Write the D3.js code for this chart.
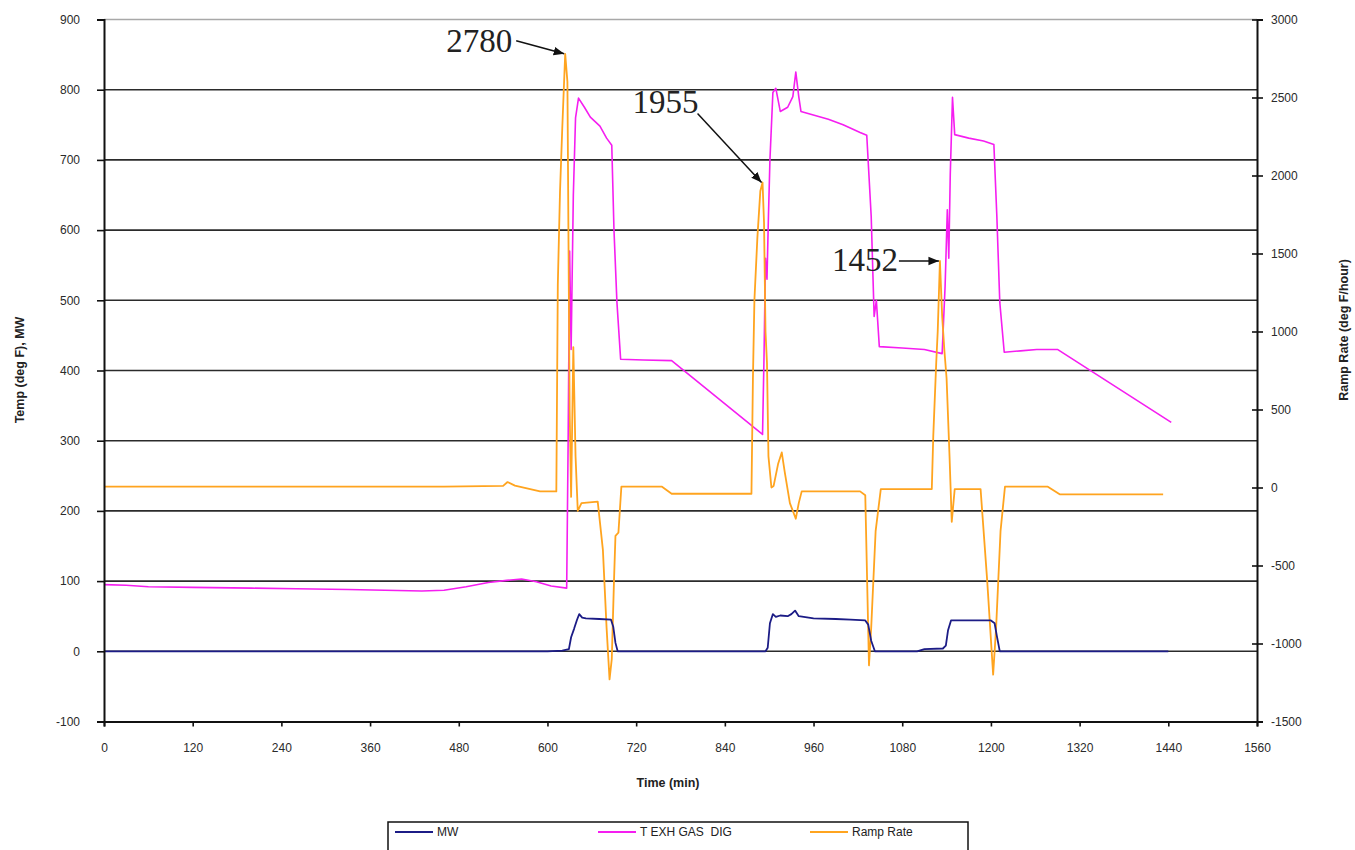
<!DOCTYPE html>
<html>
<head>
<meta charset="utf-8">
<script src="https://cdn.jsdelivr.net/npm/d3@7"></script>
<style>
  html, body { margin: 0; padding: 0; background: #fff; }
  svg { display: block; }
  .tick text { font-family: Arial, "Liberation Sans", sans-serif; font-size: 12px; fill: #2a2a2a; }
</style>
</head>
<body>
<svg id="chart" width="1355" height="850"></svg>
<script>
// ---------- data (time in minutes) ----------
const xTicks = [0, 120, 240, 360, 480, 600, 720, 840, 960, 1080, 1200, 1320, 1440, 1560];
const leftTicks = [-100, 0, 100, 200, 300, 400, 500, 600, 700, 800, 900];
const rightTicks = [-1500, -1000, -500, 0, 500, 1000, 1500, 2000, 2500, 3000];
const gridValues = [0, 100, 200, 300, 400, 500, 600, 700, 800];

const seriesNames = ["MW", "T EXH GAS  DIG", "Ramp Rate"];
const seriesColors = ["#1c1c86", "#f51ef0", "#ffa41f"];

// MW (left axis)
const mwData = [
  [0, 0], [300, 0], [600, 0], [620, 1], [629, 3], [632, 20], [636, 32], [640, 45], [643, 53],
  [647, 48], [652, 47], [670, 46], [686, 45], [689, 35], [692, 12], [695, 0],
  [895, 0], [898, 5], [901, 40], [905, 53], [909, 49], [915, 51], [925, 50], [930, 53],
  [935, 58], [940, 50], [960, 47], [990, 46], [1010, 45], [1030, 44], [1034, 38], [1038, 15],
  [1043, 0], [1100, 0], [1110, 3], [1135, 4], [1139, 8], [1142, 30], [1146, 44],
  [1170, 44], [1200, 44], [1205, 40], [1208, 22], [1212, 0], [1300, 0], [1440, 0]
];

// T EXH GAS DIG (left axis)
const exhData = [
  [0, 95], [30, 94], [60, 92], [120, 91], [200, 90], [260, 89], [330, 88], [380, 87],
  [430, 86], [460, 87], [490, 92], [520, 98], [545, 101], [565, 103], [585, 99], [605, 93],
  [626, 90], [628, 300], [630, 570], [632, 430], [635, 650], [638, 760], [642, 788],
  [650, 775], [658, 761], [671, 748], [680, 731], [687, 721], [690, 600], [694, 497],
  [699, 416], [730, 415], [768, 414], [891, 309], [893, 420], [895, 560], [897, 530],
  [899, 620], [901, 700], [905, 796], [909, 802], [915, 769], [925, 775], [932, 790],
  [936, 825], [940, 790], [943, 769], [980, 758], [1000, 750], [1023, 739], [1032, 735],
  [1038, 620], [1042, 477], [1045, 500], [1049, 434], [1080, 432], [1110, 430],
  [1134, 424], [1138, 520], [1141, 629], [1143, 560], [1145, 680], [1148, 789],
  [1151, 736], [1170, 731], [1190, 727], [1204, 722], [1208, 620], [1212, 497],
  [1218, 426], [1240, 428], [1262, 430], [1290, 430], [1444, 326]
];

// Ramp Rate (right axis)
const rampData = [
  [0, 5], [120, 5], [240, 5], [360, 5], [460, 5], [540, 10], [546, 35], [556, 12],
  [590, -25], [612, -25], [614, 1300], [617, 1900], [620, 2300], [624, 2780], [627, 2600],
  [630, 500], [632, -60], [635, 900], [638, 200], [641, -150], [646, -100], [668, -90],
  [675, -400], [680, -900], [684, -1230], [687, -1100], [690, -600], [692, -310],
  [696, -290], [700, 5], [755, 5], [768, -40], [876, -40], [878, 700], [880, 1200],
  [884, 1600], [888, 1900], [891, 1955], [893, 1700], [895, 1000], [897, 800],
  [899, 200], [903, 0], [906, 10], [912, 150], [917, 225], [921, 100], [928, -100],
  [936, -200], [940, -100], [944, -25], [1023, -25], [1030, -50], [1035, -1140],
  [1038, -900], [1044, -280], [1051, -10], [1120, -10], [1122, 330], [1126, 800],
  [1128, 1000], [1131, 1452], [1134, 1100], [1137, 880], [1140, 700], [1144, 200],
  [1147, -220], [1151, -10], [1186, -10], [1195, -600], [1203, -1200], [1207, -900],
  [1213, -280], [1219, 5], [1277, 5], [1293, -44], [1433, -44]
];

// annotations: [time, ramp value, label]
const annotations = [
  [624, 2780, "2780"],
  [891, 1955, "1955"],
  [1131, 1452, "1452"]
];

// ---------- layout ----------
const svg = d3.select("#chart");
const L = 104, R = 1257, T = 19.5, B = 721.5;

const x = d3.scaleLinear().domain([0, 1560]).range([L, R]);
const yL = d3.scaleLinear().domain([-100, 900]).range([B, T]);
const yR = d3.scaleLinear().domain([-1500, 3000]).range([B, T]);
const fmt = d => String(d);

// top border line
svg.append("line").attr("x1", L).attr("x2", R).attr("y1", T).attr("y2", T)
  .attr("stroke", "#a8a8a8").attr("stroke-width", 1.5);

// gridlines
svg.append("g").selectAll("line").data(gridValues).join("line")
  .attr("x1", L).attr("x2", R)
  .attr("y1", d => yL(d)).attr("y2", d => yL(d))
  .attr("stroke", "#2b2b2b").attr("stroke-width", 1.6);

// series lines
const lineL = d3.line().x(d => x(d[0])).y(d => yL(d[1]));
const lineR = d3.line().x(d => x(d[0])).y(d => yR(d[1]));

svg.append("path").datum(exhData).attr("d", lineL)
  .attr("fill", "none").attr("stroke", seriesColors[1]).attr("stroke-width", 1.6)
  .attr("stroke-linejoin", "round");
svg.append("path").datum(rampData).attr("d", lineR)
  .attr("fill", "none").attr("stroke", seriesColors[2]).attr("stroke-width", 1.8)
  .attr("stroke-linejoin", "round");
svg.append("path").datum(mwData).attr("d", lineL)
  .attr("fill", "none").attr("stroke", seriesColors[0]).attr("stroke-width", 1.8)
  .attr("stroke-linejoin", "round");

// axes
const axL = svg.append("g").attr("transform", `translate(${L},0)`)
  .call(d3.axisLeft(yL).tickValues(leftTicks).tickSize(7).tickPadding(17).tickFormat(fmt));
const axR = svg.append("g").attr("transform", `translate(${R},0)`)
  .call(d3.axisRight(yR).tickValues(rightTicks).tickSize(6).tickPadding(8).tickFormat(fmt));
axR.selectAll(".tick line").attr("x1", -5);
const axB = svg.append("g").attr("transform", `translate(0,${B})`)
  .call(d3.axisBottom(x).tickValues(xTicks).tickSize(5).tickPadding(17).tickFormat(fmt));

[axL, axR, axB].forEach(a => {
  a.select(".domain").attr("stroke", "#111").attr("stroke-width", 2);
  a.selectAll(".tick line").attr("stroke", "#111").attr("stroke-width", 1.6);
});

// axis titles
const titleFont = "Arial, 'Liberation Sans', sans-serif";
svg.append("text").attr("transform", "translate(24,370) rotate(-90)")
  .attr("text-anchor", "middle").attr("font-family", titleFont).attr("font-size", 12.5)
  .attr("font-weight", "bold").attr("fill", "#222").text("Temp (deg F), MW");
svg.append("text").attr("transform", "translate(1348,330) rotate(-90)")
  .attr("text-anchor", "middle").attr("font-family", titleFont).attr("font-size", 12.5)
  .attr("font-weight", "bold").attr("fill", "#222").text("Ramp Rate (deg F/hour)");
svg.append("text").attr("x", 668).attr("y", 787)
  .attr("text-anchor", "middle").attr("font-family", titleFont).attr("font-size", 12.5)
  .attr("font-weight", "bold").attr("fill", "#222").text("Time (min)");

// annotations
svg.append("defs").append("marker").attr("id", "arr")
  .attr("viewBox", "0 0 10 10").attr("refX", 10).attr("refY", 5)
  .attr("markerWidth", 7).attr("markerHeight", 7).attr("orient", "auto")
  .append("path").attr("d", "M0,1 L10,5 L0,9 Z").attr("fill", "#111");

const annLayout = [
  { dx: -119, dy: -2, ax: -49, ay: -13 },    // 2780
  { dx: -130, dy: -70, ax: -65, ay: -69 },   // 1955
  { dx: -108, dy: 10, ax: -41, ay: 0 }       // 1452
];
annotations.forEach((a, i) => {
  const px = x(a[0]), py = yR(a[1]);
  const lay = annLayout[i];
  svg.append("line")
    .attr("x1", px + lay.ax).attr("y1", py + lay.ay)
    .attr("x2", px - 1).attr("y2", py)
    .attr("stroke", "#111").attr("stroke-width", 1.5)
    .attr("marker-end", "url(#arr)");
  svg.append("text").attr("x", px + lay.dx).attr("y", py + lay.dy)
    .attr("font-family", "'Liberation Serif', 'Times New Roman', serif")
    .attr("font-size", 33).attr("fill", "#222").text(a[2]);
});

// legend
const lg = svg.append("g");
lg.append("rect").attr("x", 388).attr("y", 822).attr("width", 580).attr("height", 40)
  .attr("fill", "#fff").attr("stroke", "#111").attr("stroke-width", 1.5);
const legendX = [395, 598, 810];
seriesNames.forEach((n, i) => {
  lg.append("line").attr("x1", legendX[i]).attr("x2", legendX[i] + 38)
    .attr("y1", 832).attr("y2", 832).attr("stroke", seriesColors[i]).attr("stroke-width", 1.8);
  lg.append("text").attr("x", legendX[i] + 42).attr("y", 836)
    .attr("font-family", titleFont).attr("font-size", 12).attr("fill", "#222")
    .style("white-space", "pre").text(n);
});
</script>
</body>
</html>
